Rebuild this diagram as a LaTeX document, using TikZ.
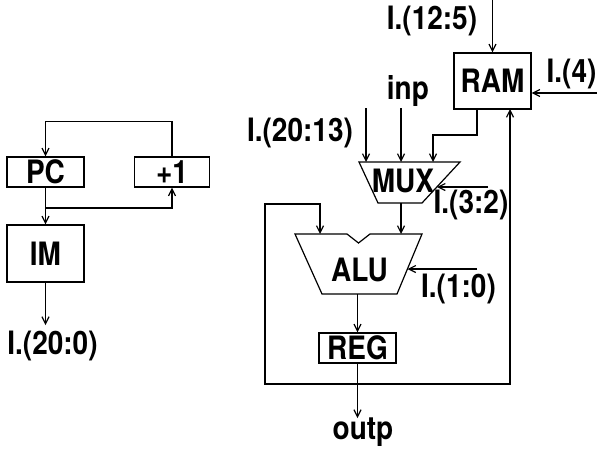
\documentclass[tikz,border=0pt]{standalone}
\usepackage{fontspec}
\setmainfont{TeX Gyre Heros}
\usetikzlibrary{arrows.meta}
\newcommand\tx[1]{\scalebox{1}[1.15]{#1}}
\begin{document}
\begin{tikzpicture}[x=1pt,y=-1pt,line width=1.2pt,
  lbl/.style={font=\bfseries\fontsize{28}{30}\selectfont,inner sep=0pt},
  blk/.style={draw,lbl,inner sep=0pt},
  arr/.style={-{Straight Barb[length=7pt,width=7pt]}}]
\useasboundingbox[fill=white] (0,0) rectangle (597,448);
% left part
\node[blk,minimum width=77pt,minimum height=30pt] (pc) at (45.5,172) {\tx{PC}};
\node[blk,minimum width=75pt,minimum height=30pt] (p1) at (172,172) {\tx{+1}};
\node[blk,minimum width=77pt,minimum height=57pt] (im) at (45.5,253.5) {\tx{IM}};
\node[lbl] (i200) at (52.5,346) {\tx{I.(20:0)}};
\coordinate (imout) at (45.5,325);
\coordinate (br) at (45.5,208);
\draw[arr] (p1.north) -- ++(0,-35) -| (pc.north);
\draw[arr] (pc.south) -- (im.north);
\draw[arr] (br) -| (p1.south);
\draw[arr] (im.south) -- (imout);
% right part
\node[blk,minimum width=77pt,minimum height=56pt] (ram) at (492.5,81) {\tx{RAM}};
\node[lbl] (i125) at (432,20.5) {\tx{I.(12:5)}};
\node[lbl] (i4) at (571.5,74) {\tx{I.(4)}};
\node[lbl] (inp) at (408,91.5) {\tx{inp}};
\node[lbl] (i2013) at (300,132.5) {\tx{I.(20:13)}};
\node[lbl] (i32) at (471,204.5) {\tx{I.(3:2)}};
\node[lbl] (i10) at (458.5,289) {\tx{I.(1:0)}};
\node[lbl] (outp) at (363,432.5) {\tx{outp}};
\coordinate (ramin) at (492.5,0);
\coordinate (i4in) at (597,93);
% MUX
\coordinate (mtl) at (359,162);
\coordinate (mtr) at (460,162);
\coordinate (mbr) at (422,203);
\coordinate (mbl) at (378,203);
\draw (mtl) -- (mtr) -- (mbr) -- (mbl) -- cycle;
\node[lbl] (mux) at (403,181) {\tx{MUX}};
% ALU
\coordinate (atl) at (295,234);
\coordinate (atr) at (422,234);
\coordinate (abr) at (397,294);
\coordinate (abl) at (322,294);
\draw (atl) -- (347,234) -- (358.5,243) -- (370,234) -- (atr) -- (abr) -- (abl) -- cycle;
\node[lbl] (alu) at (359.5,269.5) {\tx{ALU}};
\node[blk,minimum width=77pt,minimum height=30pt] (reg) at (357.5,348) {\tx{REG}};
% connectors
\draw[arr] (ramin) -- (ram.north);
\draw[arr] (i4in) -- (i4in -| ram.east);
\coordinate (m1s) at (366,108);
\coordinate (m2s) at (401,108);
\draw[arr] (m1s) -- (m1s |- mtl);
\draw[arr] (m2s) -- (m2s |- mtl);
\coordinate (ramo) at (477,109);
\draw[arr] (ramo) -- (477,135) -- (433,135) -- (433,162);
\coordinate (i32s) at (488,187);
\draw[arr] (i32s) -- (437,187);
\draw[arr] (401,203) -- (401,234);
\coordinate (i10s) at (477,269);
\draw[arr] (i10s) -- (407.5,269);
\draw[arr] (abl -| reg.north) -- (reg.north);
\coordinate (outpin) at (357.5,418);
\draw[arr] (reg.south) -- (outpin);
\coordinate (jn) at (357.5,384);
\draw[arr] (jn) -- (265,384) -- (265,204) -- (320,204) -- (320,234);
\draw[arr] (jn) -- (510,384) -- (510,109);
\end{tikzpicture}
\end{document}
